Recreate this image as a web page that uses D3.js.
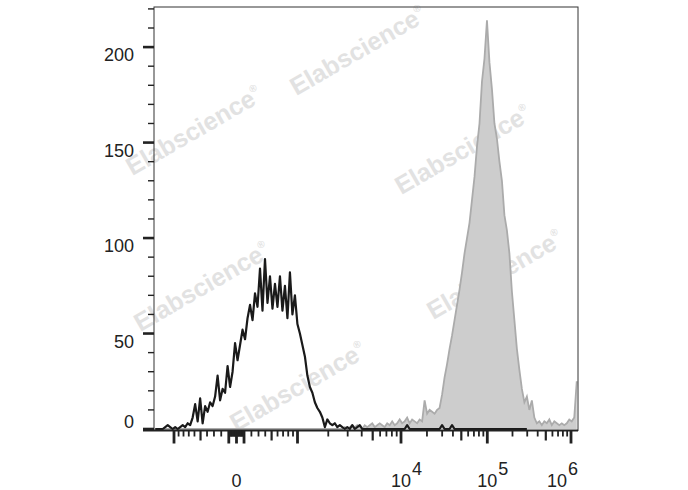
<!DOCTYPE html>
<html><head><meta charset="utf-8">
<script src="https://cdn.jsdelivr.net/npm/d3@7"></script>
<style>body{margin:0;background:#fff}svg{display:block}</style>
</head><body>
<svg id="chart" width="688" height="490"></svg>
<script>
// ---------- data ----------
const binCount = 170; // histogram channels, equally spaced on the display axis
const blackCounts = [
  0,0,0,0,1,2,1,0,1,0,1,2,1,3,
  2,6,13,4,16,3,12,9,14,12,
  17,28,15,21,19,33,22,30,45,36,
  44,52,47,58,65,57,71,64,84,62,
  89,66,80,63,76,64,80,62,75,58,
  82,60,70,55,50,44,38,28,22,19,
  14,11,9,6,1,5,3,2,3,1,
  2,1,
  0,1,0,2,0,1,2,0,0,0,
  0,0,0,0,0,0,0,0,0,0,
  0,0,0,0,0,2,0,0,0,0,
  0,0,0,0,0,0,0,0,0,2,
  0,0,0,2,0,0,0,0,0,0,
  0,0,0,0,0,0,0,0,0,0,
  0,0,0,0,0,0,0,0,0,0,
  0,0,0,0
];
const grayCounts = [
  0,0,0,0,0,0,0,0,0,0,
  0,0,0,0,0,0,0,0,0,0,
  0,0,0,0,0,0,0,0,0,0,
  0,0,0,0,0,0,0,0,0,0,
  0,0,0,0,0,0,0,0,0,0,
  0,0,0,0,0,0,0,0,0,0,
  0,0,0,0,0,0,0,0,0,0,
  0,0,0,0,0,0,
  1,0,1,2,1,2,1,0,2,1,
  2,3,1,2,3,2,1,3,2,4,
  2,3,5,3,4,6,3,5,4,3,
  5,4,15,8,10,9,8,10,11,18,
  27,34,42,49,57,65,73,82,92,100,
  108,120,132,148,160,182,194,214,192,178,
  160,152,140,130,112,104,92,72,57,42,
  31,21,14,17,10,15,6,3,4,2,
  4,3,5,2,4,3,2,3,2,3,
  5,4,6,25
];
const yMajorTicks = [0, 50, 100, 150, 200];
const yMinorStep = 10;
const yMax = 221;
const xDecadeLabels = [
  {value: 0, base: "0", exp: ""},
  {value: 1e4, base: "10", exp: "4"},
  {value: 1e5, base: "10", exp: "5"},
  {value: 1e6, base: "10", exp: "6"}
];
const watermarkText = "Elabscience";

// ---------- layout ----------
const M = {left: 154, right: 578, top: 7, bottom: 429};
const svg = d3.select("#chart");

// channel scale for histogram bins
const xc = d3.scaleLinear().domain([0, binCount]).range([M.left, M.right]);
// value (biexponential display) scale for axis ticks
const T = v => Math.asinh(v / 700);
const calVals = [-1000, 0, 1000, 5000, 1e4, 1e5, 1e6];
const calPx = [174, 236.5, 297.5, 372.7, 401, 487.3, 571];
const xvLin = d3.scaleLinear().domain(calVals.map(T)).range(calPx);
const xv = v => xvLin(T(v));
const y = d3.scaleLinear().domain([0, yMax]).range([M.bottom, M.top]);

// ---------- watermarks ----------
const wm = [[362,58],[198,138],[467,157],[206,294],[499,282],[302,394]];
const wg = svg.append("g");
wm.forEach(([cx, cy]) => {
  const t = wg.append("text")
    .attr("transform", `translate(${cx},${cy}) rotate(-30)`)
    .attr("text-anchor", "middle")
    .attr("font-family", "Liberation Sans, Arial, sans-serif")
    .attr("font-weight", "bold")
    .attr("font-size", 25)
    .attr("fill", "#e2e2e2");
  t.append("tspan").text(watermarkText);
  t.append("tspan").attr("font-size", 10).attr("dy", -12).text("®");
});

// ---------- histograms ----------
const gArea = d3.area()
  .x((d, i) => xc(i + 0.5))
  .y0(y(0)).y1(d => y(d));
const line = d3.line()
  .x((d, i) => xc(i + 0.5))
  .y(d => y(d));

svg.append("path").datum(grayCounts)
  .attr("d", gArea).attr("fill", "#cdcdcd").attr("stroke", "none");
svg.append("path").datum(grayCounts)
  .attr("d", line).attr("fill", "none").attr("stroke", "#ababab").attr("stroke-width", 1.8);
svg.append("path").datum(blackCounts)
  .attr("d", line).attr("fill", "none").attr("stroke", "#1a1a1a").attr("stroke-width", 2.2)
  .attr("stroke-linejoin", "round");

// ---------- frame ----------
svg.append("rect").attr("x", M.left).attr("y", M.top)
  .attr("width", M.right - M.left).attr("height", M.bottom + 1.5 - M.top)
  .attr("fill", "none").attr("stroke", "#333").attr("stroke-width", 1);
svg.append("line").attr("x1", M.left - 11).attr("x2", M.right)
  .attr("y1", M.bottom + 1.5).attr("y2", M.bottom + 1.5)
  .attr("stroke", "#222").attr("stroke-width", 2);

// ---------- y axis ----------
const yMinor = d3.range(0, yMax, yMinorStep).filter(v => !yMajorTicks.includes(v));
svg.append("g").selectAll("line").data(yMinor).join("line")
  .attr("x1", M.left - 6).attr("x2", M.left)
  .attr("y1", d => y(d)).attr("y2", d => y(d))
  .attr("stroke", "#222").attr("stroke-width", 1.4);
svg.append("g").selectAll("line").data(yMajorTicks).join("line")
  .attr("x1", M.left - 11).attr("x2", M.left)
  .attr("y1", d => y(d)).attr("y2", d => y(d))
  .attr("stroke", "#222").attr("stroke-width", 2.6);
svg.append("g").selectAll("text").data(yMajorTicks).join("text")
  .attr("x", 134)
  .attr("y", d => d === 0 ? y(d) - 1 : y(d) + 14)
  .attr("text-anchor", "end")
  .attr("font-family", "Liberation Sans, Arial, sans-serif")
  .attr("font-size", 18).attr("fill", "#222")
  .text(d => d);

// ---------- x axis ticks (biexponential) ----------
const xt = [];
[-1000, -100, 0, 100, 1000, 1e4, 1e5, 1e6].forEach(v => xt.push({v, len: 13, w: 2.8}));
[-500, 500, 5000, 5e4, 5e5].forEach(v => xt.push({v, len: 10, w: 2.2}));
[10, 100, 1000].forEach(dec => {
  [2,3,4,6,7,8,9].forEach(m => { xt.push({v: m*dec, len: 6, w: 1.8}); xt.push({v: -m*dec, len: 6, w: 1.8}); });
});
[1e4, 1e5].forEach(dec => {
  [2,3,4,6,7,8,9].forEach(m => xt.push({v: m*dec, len: 6, w: 1.8}));
});
[10, -10, 50, -50].forEach(v => xt.push({v, len: 6, w: 1.8}));
const xtVis = xt.filter(d => xv(d.v) >= M.left + 2 && xv(d.v) <= M.right - 2);
svg.append("g").selectAll("line").data(xtVis).join("line")
  .attr("x1", d => xv(d.v)).attr("x2", d => xv(d.v))
  .attr("y1", M.bottom + 1.5).attr("y2", d => M.bottom + 1.5 + d.len)
  .attr("stroke", "#222").attr("stroke-width", d => d.w);

// labels
const lg = svg.append("g")
  .attr("font-family", "Liberation Sans, Arial, sans-serif")
  .attr("font-size", 18).attr("fill", "#222");
xDecadeLabels.forEach(d => {
  const t = lg.append("text").attr("y", 487);
  const b = t.append("tspan").text(d.base);
  if (d.exp) t.append("tspan").attr("dy", -12).attr("dx", 1).text(d.exp);
  const bw = b.node().getComputedTextLength();
  const tw = t.node().getComputedTextLength() + 1;
  let x0 = xv(d.value) - bw / 2;
  if (x0 + tw > M.right) x0 = M.right - tw;
  t.attr("x", x0);
});
</script>
</body></html>
